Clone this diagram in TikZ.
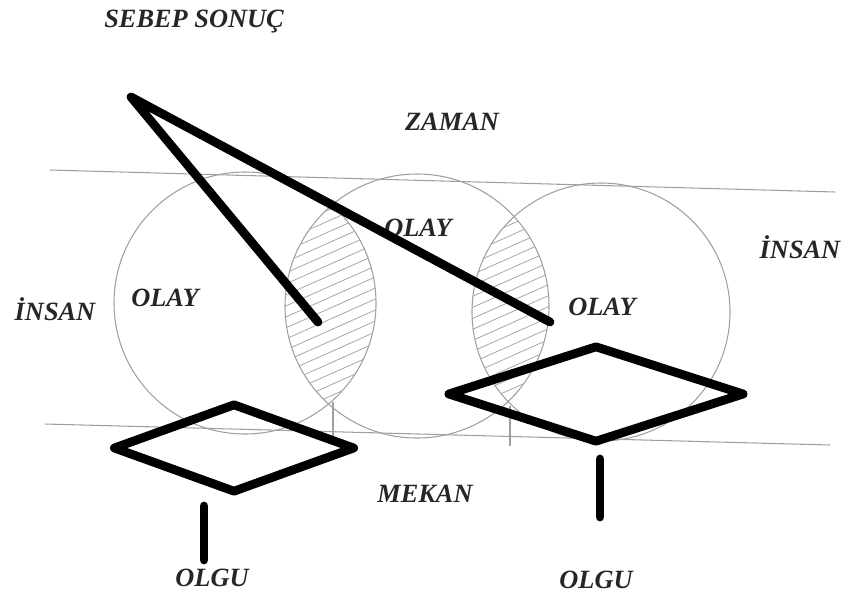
\documentclass[tikz,border=0pt]{standalone}
\usepackage{fontspec}
\setmainfont{Liberation Serif}
\usetikzlibrary{shapes.geometric,calc}

\tikzset{
  guide/.style={gray!75, line width=0.6pt},
  hatch/.style={gray!70, line width=0.45pt},
  bold/.style={line width=5pt, line cap=round, line join=round},
  lbl/.style={font=\fontsize{15}{17}\selectfont\bfseries\itshape, text=black!85},
  olgubox/.style={diamond, draw, bold, inner sep=0pt},
}

\begin{document}
\begin{tikzpicture}[x=0.02cm, y=-0.02cm]
    \useasboundingbox (0,0) rectangle (848,596);

    % Zaman and mekan lines
    \coordinate (z1) at (50,170);
    \coordinate (z2) at (835,192);
    \coordinate (m1) at (45,424);
    \coordinate (m2) at (830,445);
    \draw[guide] (z1) -- (z2);
    \draw[guide] (m1) -- (m2);

    % Circles
    \coordinate (o1) at (245,303);
    \coordinate (o2) at (417,306);
    \coordinate (o3) at (601,312);
    \draw[guide] (o1) circle (131);
    \draw[guide] (o2) circle (132);
    \draw[guide] (o3) circle (129);

    % Hatched overlaps
    \begin{scope}
        \clip (o1) circle (131);
        \clip (o2) circle (132);
        \foreach \k in {170,181,...,490}
            \draw[hatch] (270,\k) -- (400,\k-58);
    \end{scope}
    \begin{scope}
        \clip (o2) circle (132);
        \clip (o3) circle (129);
        \foreach \k in {170,181,...,490}
            \draw[hatch] (460,\k) -- (570,\k-49);
    \end{scope}

    % Short verticals
    \coordinate (v1) at (333,402);
    \coordinate (v2) at (510,406);
    \draw[guide] (v1) -- ++(0,38);
    \draw[guide] (v2) -- ++(0,40);

    % Labels
    \node[lbl] (sebep) at (194,22) {SEBEP SONUÇ};
    \node[lbl] (zaman) at (452,122) {ZAMAN};
    \node[lbl] (olay2) at (418,228) {OLAY};
    \node[lbl] (insan2) at (800,247) {İNSAN};
    \node[lbl] (insan1) at (55,309) {İNSAN};
    \node[lbl] (olay1) at (165,298) {OLAY};
    \node[lbl] (olay3) at (602,307) {OLAY};
    \node[lbl] (mekan) at (425,494) {MEKAN};
    \node[lbl] (olgu1) at (212,578) {OLGU};
    \node[lbl] (olgu2) at (596,580) {OLGU};

    % Sebep sonuc
    \coordinate (s) at (131,97);
    \coordinate (a) at (318,322);
    \coordinate (b) at (550,322);
    \draw[bold] (a) -- (s) -- (b);

    % Olgu
    \node[olgubox, minimum width=4.86cm, minimum height=1.8cm] (d1) at (234,448) {};
    \node[olgubox, minimum width=5.96cm, minimum height=1.96cm] (d2) at (596,394) {};
    \coordinate (t1) at (204,506);
    \coordinate (e1) at (204,560);
    \coordinate (t2) at (600,459);
    \coordinate (e2) at (600,517);
    \draw[bold] (t1) -- (e1);
    \draw[bold] (t2) -- (e2);
\end{tikzpicture}
\end{document}
